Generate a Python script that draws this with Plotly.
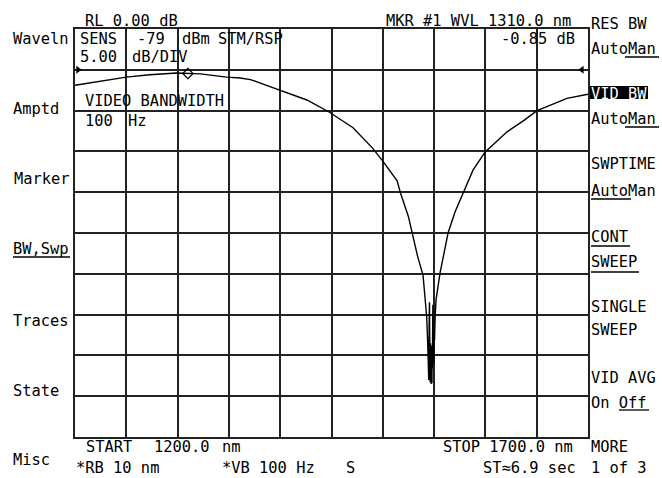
import plotly.graph_objects as go

# ---- data ----
wavelength_nm = [1200, 1224, 1250, 1273, 1299, 1322, 1348, 1361, 1371, 1380, 1400, 1426, 1448,
                 1471, 1490, 1500, 1514, 1517, 1525, 1529, 1534, 1539.2, 1541.1, 1542.8, 1543.8,
                 1544.3, 1544.8, 1545.2, 1545.5, 1545.9, 1546.2, 1546.5, 1546.7, 1546.9, 1547.1,
                 1547.3, 1547.5, 1547.7, 1547.9, 1548.1, 1548.3, 1548.5, 1548.8, 1549.1, 1549.4,
                 1549.7, 1550.0, 1550.4, 1551.0, 1551.9, 1555.8, 1558.7,
                 1563.6, 1570.5, 1578.2, 1587.9, 1599.6, 1621.1, 1637.6, 1650.3, 1679.5, 1700]
power_db = [-6.9, -6.4, -5.9, -5.6, -5.4, -5.5, -5.9, -6.0, -6.2, -6.6, -7.5, -8.7, -10.2,
            -12.1, -14.6, -16.2, -18.6, -20.0, -23.0, -25.3, -27.9, -30.15, -32.6, -35.3, -38.7,
            -41.8, -43.0, -35.7, -33.5, -40.6, -43.3, -38.5, -42.5, -39.0, -43.5,
            -39.5, -42.0, -38.8, -43.4, -39.2, -41.6, -38.1, -33.8, -38.9, -41.0,
            -40.2, -37.5, -38.1, -35.3, -33.2, -29.9, -27.9,
            -25.0, -22.4, -20.1, -17.3, -15.1, -12.6, -11.2, -10.0, -8.5, -8.0]

marker_wl = [1310]
marker_db = [-5.45]
display_line_wl = [1203, 1694]
display_line_db = [-5, -5]

x_range = [1200, 1700]
y_range = [-50, 0]

# ---- layout geometry (pixels) ----
W, H = 662, 478
L, T, PW, PH = 75, 29, 513, 408

def px(x, y):
    return (x - L) / PW, 1 - (y - T) / PH

FONT = "DejaVu Sans Mono"
FS = 15.4
DY = 1.5

fig = go.Figure()
fig.add_trace(go.Scatter(x=wavelength_nm, y=power_db, mode="lines",
                         line=dict(color="black", width=1.4), hoverinfo="skip"))
fig.add_trace(go.Scatter(x=marker_wl, y=marker_db, mode="markers",
                         marker=dict(symbol="diamond-open", size=8, color="black",
                                     line=dict(width=1.2, color="black"))))
fig.add_trace(go.Scatter(x=display_line_wl[:1], y=display_line_db[:1], mode="markers",
                         marker=dict(symbol="triangle-right", size=7, color="black")))
fig.add_trace(go.Scatter(x=display_line_wl[1:], y=display_line_db[1:], mode="markers",
                         marker=dict(symbol="triangle-left", size=7, color="black")))

texts = [
    (85, 19, "RL 0.00 dB"), (386, 19, "MKR #1 WVL 1310.0 nm"),
    (80, 37, "SENS"), (137, 37, "-79"), (182, 37, "dBm"), (218, 37, "STM/RSP"),
    (80, 56, "5.00"), (132, 56, "dB/DIV"), (501, 37, "-0.85 dB"),
    (85, 99, "VIDEO BANDWIDTH"), (85, 120, "100"), (128, 120, "Hz"),
    (13, 37, "Waveln"), (13, 108, "Amptd"), (14, 177, "Marker"), (13, 247, "BW,Swp"),
    (13, 319, "Traces"), (13, 389, "State"), (13, 458, "Misc"),
    (86, 446, "START"), (154, 446, "1200.0"), (222, 446, "nm"),
    (76, 466, "*RB 10 nm"), (222, 466, "*VB 100 Hz"), (346, 466, "S"),
    (443, 446, "STOP 1700.0 nm"), (483, 466, "ST\u22486.9 sec"),
    (591, 22, "RES BW"), (591, 47, "AutoMan"), (591, 117, "AutoMan"),
    (591, 163, "SWPTIME"), (591, 190, "AutoMan"), (591, 235, "CONT"), (591, 260, "SWEEP"),
    (591, 305, "SINGLE"), (591, 328, "SWEEP"), (591, 376, "VID AVG"), (591, 401, "On Off"),
    (591, 446, "MORE"), (591, 466, "1 of 3"),
]
annotations = []
for x, y, t in texts:
    xp, yp = px(x - 2, y + DY)
    annotations.append(dict(x=xp, y=yp, xref="paper", yref="paper", text=t, showarrow=False,
                            xanchor="left", yanchor="middle",
                            font=dict(family=FONT, size=FS, color="black")))
# inverted softkey label
xp, yp = px(591 - 2, 92.5 + DY)
annotations.append(dict(x=xp, y=yp, xref="paper", yref="paper", text="VID BW", showarrow=False,
                        xanchor="left", yanchor="middle",
                        font=dict(family=FONT, size=FS, color="white")))

shapes = []
x0, y0 = px(589, 86)
x1, y1 = px(648, 99)
shapes.append(dict(type="rect", xref="paper", yref="paper", x0=x0, y0=y0, x1=x1, y1=y1,
                   fillcolor="black", line=dict(width=0), layer="below"))
underlines = [(13, 70, 257), (625, 659, 57), (625, 659, 127), (591, 631, 199),
              (591, 630, 246), (591, 639, 272), (619, 649, 410)]
for a, b, y in underlines:
    xa, ya = px(a, y)
    xb, _ = px(b, y)
    shapes.append(dict(type="line", xref="paper", yref="paper", x0=xa, y0=ya, x1=xb, y1=ya,
                       line=dict(color="black", width=1.3)))

axis_common = dict(showgrid=True, gridcolor="#222", gridwidth=1.5, zeroline=False,
                   showticklabels=False, ticks="", showline=True, mirror=True,
                   linecolor="#222", linewidth=1.5, fixedrange=True)
fig.update_layout(
    width=W, height=H, autosize=False,
    margin=dict(l=L, r=W - L - PW, t=T, b=H - T - PH, pad=0),
    paper_bgcolor="white", plot_bgcolor="white", showlegend=False,
    xaxis=dict(range=x_range, dtick=50, tick0=1200, **axis_common),
    yaxis=dict(range=y_range, dtick=5, tick0=0, **axis_common),
    annotations=annotations, shapes=shapes,
)
fig.write_html("out.html", config=dict(displayModeBar=False),
               post_script="document.body.style.margin='0';document.body.style.overflow='hidden';")
